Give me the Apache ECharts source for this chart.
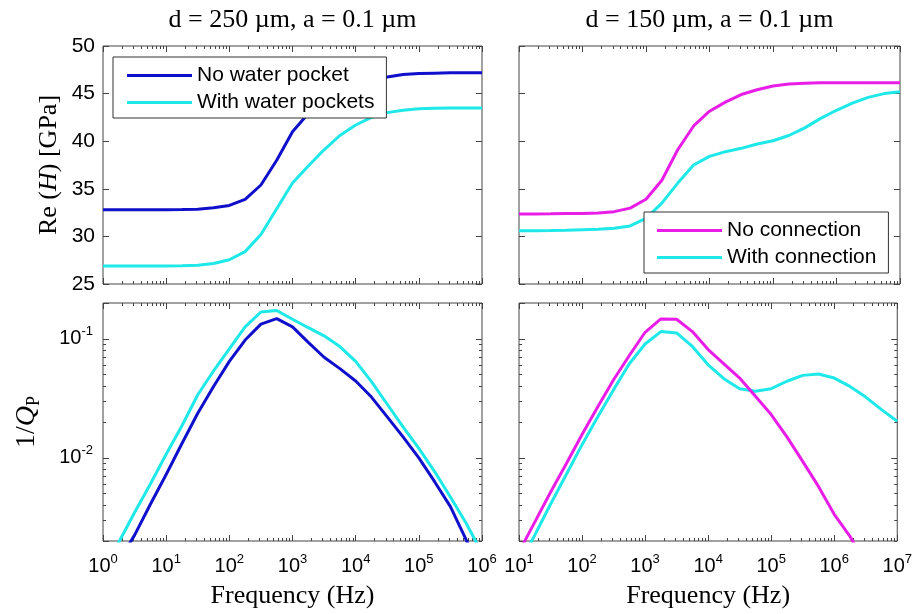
<!DOCTYPE html>
<html><head><meta charset="utf-8">
<script src="https://cdn.jsdelivr.net/npm/echarts@6/dist/echarts.min.js"></script>
<style>html,body{margin:0;padding:0;background:#fff}#c{width:915px;height:614px}</style>
</head><body><div id="c"></div>
<script>
// ---------- data ----------
const panelTitles = ['d = 250 \u00b5m, a = 0.1 \u00b5m', 'd = 150 \u00b5m, a = 0.1 \u00b5m'];
const legendLeft = ['No water pocket', 'With water pockets'];
const legendRight = ['No connection', 'With connection'];

const freqLeft = [1, 1.778, 3.162, 5.623, 10, 17.78, 31.62, 56.23, 100, 177.8, 316.2, 562.3,
  1000, 1778, 3162, 5623, 1e4, 1.778e4, 3.162e4, 5.623e4, 1e5, 1.778e5, 3.162e5, 5.623e5, 1e6];
const freqRight = [10, 17.78, 31.62, 56.23, 100, 177.8, 316.2, 562.3, 1000, 1778, 3162, 5623,
  1e4, 1.778e4, 3.162e4, 5.623e4, 1e5, 1.778e5, 3.162e5, 5.623e5, 1e6, 1.778e6, 3.162e6, 5.623e6, 1e7];

const reNoPocket = [32.8, 32.8, 32.8, 32.8, 32.8, 32.82, 32.85, 33.0, 33.25, 33.9, 35.4, 38.0,
  41.0, 42.9, 44.4, 45.4, 46.0, 46.4, 46.75, 47.0, 47.1, 47.15, 47.2, 47.2, 47.2];
const reWithPockets = [26.9, 26.9, 26.9, 26.9, 26.9, 26.92, 26.97, 27.15, 27.55, 28.4, 30.2, 32.9,
  35.6, 37.4, 39.1, 40.6, 41.7, 42.5, 43.0, 43.25, 43.4, 43.45, 43.5, 43.5, 43.5];
const reNoConn = [32.35, 32.35, 32.37, 32.4, 32.4, 32.45, 32.6, 32.97, 33.9, 35.9, 39.1, 41.6,
  43.15, 44.1, 44.9, 45.4, 45.8, 46.0, 46.1, 46.15, 46.15, 46.15, 46.15, 46.15, 46.15];
const reWithConn = [30.6, 30.6, 30.62, 30.65, 30.7, 30.75, 30.85, 31.1, 31.9, 33.5, 35.6, 37.5,
  38.4, 38.9, 39.25, 39.7, 40.05, 40.6, 41.4, 42.4, 43.25, 44.0, 44.6, 45.0, 45.2];

const invQNoPocket = [0.000794, 0.00135, 0.00224, 0.00407, 0.00724, 0.0132, 0.0237, 0.0398, 0.0646,
  0.0977, 0.133, 0.148, 0.126, 0.0933, 0.070, 0.0562, 0.0442, 0.0324, 0.0221, 0.015, 0.0100,
  0.0063, 0.00389, 0.00204, 0.00112];
const invQWithPockets = [0.00112, 0.00195, 0.00347, 0.00603, 0.0107, 0.0186, 0.0339, 0.0537, 0.0822,
  0.126, 0.168, 0.173, 0.146, 0.124, 0.106, 0.0861, 0.0646, 0.0437, 0.0282, 0.0182, 0.0120,
  0.00767, 0.00468, 0.00282, 0.00158];
const invQNoConn = [0.00162, 0.00288, 0.00513, 0.00891, 0.0157, 0.0269, 0.0453, 0.0724, 0.1135,
  0.147, 0.146, 0.115, 0.0813, 0.0617, 0.0468, 0.0329, 0.0231, 0.0150, 0.00933, 0.00575, 0.00335,
  0.00219, 0.00126, 0.00063, 0.000316];
const invQWithConn = [0.00126, 0.00224, 0.00407, 0.00724, 0.0129, 0.0221, 0.0374, 0.0617, 0.0904,
  0.115, 0.112, 0.0863, 0.0605, 0.0462, 0.0381, 0.0362, 0.0381, 0.0440, 0.0493, 0.0506, 0.0468,
  0.0398, 0.0324, 0.0254, 0.0203];

const xRangeLeft = [1, 1e6];
const xRangeRight = [10, 1e7];
const reRange = [25, 50];
const invQRange = [0.002, 0.2];

// ---------- styling ----------
const BLUE = '#1010cc', CYAN = '#1ee8e8', MAGENTA = '#e81ee8';
const AX = '#444';
const SANS = 'Liberation Sans, Arial, sans-serif';
const SERIF = 'Liberation Serif, Times New Roman, serif';

const grids = [
  {left: 103, top: 46, width: 379, height: 238},
  {left: 519, top: 46, width: 381, height: 238},
  {left: 103, top: 303, width: 379, height: 238},
  {left: 519, top: 303, width: 381, height: 238}
].map(g => Object.assign(g, {show: true, borderColor: AX, borderWidth: 1, backgroundColor: 'transparent'}));

const supRich = {
  b: {fontFamily: SANS, fontSize: 20, color: '#000'},
  s: {fontFamily: SANS, fontSize: 13, color: '#000', padding: [0, 0, 14, 0]}
};
function powLabel(v) {
  const l = Math.log10(v), n = Math.round(l);
  if (Math.abs(l - n) > 1e-6) return '';
  return '{b|10}{s|' + n + '}';
}
function minorList(lo, hi) {
  const out = [];
  for (let n = Math.floor(lo) - 1; n <= Math.ceil(hi); n++)
    for (let k = 2; k <= 9; k++) { const v = n + Math.log10(k); if (v >= lo - 1e-9 && v <= hi + 1e-9) out.push(v); }
  return out;
}
function majorList(lo, hi) {
  const out = [];
  for (let n = Math.ceil(lo - 1e-9); n <= hi + 1e-9; n++) out.push(n);
  return out;
}
function decoAxis(gridIndex, position, lo, hi, values, len) {
  return {type: 'value', gridIndex, position, min: lo, max: hi,
    axisLine: {show: false, onZero: false},
    axisTick: {show: true, inside: true, length: len, customValues: values, lineStyle: {color: AX, width: 1}},
    axisLabel: {show: false}, splitLine: {show: false}};
}

const xAxis = [], yAxis = [];
const mainX = [], mainY = [];
[xRangeLeft, xRangeRight, xRangeLeft, xRangeRight].forEach((r, g) => {
  const lo = Math.log10(r[0]), hi = Math.log10(r[1]);
  mainX[g] = xAxis.length;
  xAxis.push({type: 'log', logBase: 10, gridIndex: g, position: 'bottom', min: r[0], max: r[1],
    axisLine: {show: false, onZero: false},
    axisTick: {show: true, inside: true, length: 6, lineStyle: {color: AX}},
    axisLabel: {show: g >= 2, formatter: powLabel, rich: supRich, margin: 12, color: '#000'},
    splitLine: {show: false},
    name: g >= 2 ? 'Frequency (Hz)' : '', nameLocation: 'middle', nameGap: 42,
    nameTextStyle: {fontFamily: SERIF, fontSize: 26, color: '#000'}});
  xAxis.push(decoAxis(g, 'bottom', lo, hi, minorList(lo, hi), 3));
  xAxis.push(decoAxis(g, 'top', lo, hi, majorList(lo, hi), 6));
  xAxis.push(decoAxis(g, 'top', lo, hi, minorList(lo, hi), 3));
});
// top panels: linear Re(H)
[0, 1].forEach(g => {
  mainY[g] = yAxis.length;
  yAxis.push({type: 'value', gridIndex: g, position: 'left', min: reRange[0], max: reRange[1], interval: 5,
    axisLine: {show: false, onZero: false},
    axisTick: {show: true, inside: true, length: 6, lineStyle: {color: AX}},
    axisLabel: {show: g === 0, fontFamily: SANS, fontSize: 21, color: '#000', margin: 8},
    splitLine: {show: false},
    name: g === 0 ? '{n|Re (}{i|H}{n|) [GPa]}' : '', nameLocation: 'middle', nameRotate: 90, nameGap: 41,
    nameTextStyle: {fontFamily: SERIF, fontSize: 26, color: '#000', rich: {
      n: {fontFamily: SERIF, fontSize: 26, color: '#000'},
      i: {fontFamily: SERIF, fontSize: 26, color: '#000', fontStyle: 'italic'}}}});
  yAxis.push({type: 'value', gridIndex: g, position: 'right', min: reRange[0], max: reRange[1], interval: 5,
    axisLine: {show: false, onZero: false},
    axisTick: {show: true, inside: true, length: 6, lineStyle: {color: AX}},
    axisLabel: {show: false}, splitLine: {show: false}});
});
// bottom panels: log 1/Q
[2, 3].forEach(g => {
  const lo = Math.log10(invQRange[0]), hi = Math.log10(invQRange[1]);
  mainY[g] = yAxis.length;
  yAxis.push({type: 'log', logBase: 10, gridIndex: g, position: 'left', min: invQRange[0], max: invQRange[1],
    axisLine: {show: false, onZero: false},
    axisTick: {show: true, inside: true, length: 6, lineStyle: {color: AX}},
    axisLabel: {show: g === 2, formatter: powLabel, rich: supRich, margin: 10, color: '#000'},
    splitLine: {show: false},
    name: g === 2 ? '{n|1/}{i|Q}{s|P}' : '', nameLocation: 'middle', nameRotate: 90, nameGap: 60,
    nameTextStyle: {fontFamily: SERIF, fontSize: 28, color: '#000', rich: {
      n: {fontFamily: SERIF, fontSize: 28, color: '#000'},
      i: {fontFamily: SERIF, fontSize: 28, color: '#000', fontStyle: 'italic'},
      s: {fontFamily: SERIF, fontSize: 18, color: '#000', padding: [14, 0, 0, 0]}}}});
  yAxis.push(decoAxis(g, 'left', lo, hi, minorList(lo, hi), 3));
  yAxis.push(decoAxis(g, 'right', lo, hi, majorList(lo, hi), 6));
  yAxis.push(decoAxis(g, 'right', lo, hi, minorList(lo, hi), 3));
});

function zip(xs, ys) { return xs.map((x, i) => [x, ys[i]]); }
function line(name, color, g, xs, ys) {
  return {type: 'line', name, xAxisIndex: mainX[g], yAxisIndex: mainY[g], data: zip(xs, ys),
    showSymbol: false, symbol: 'none', smooth: false, clip: true,
    lineStyle: {color, width: 3}, itemStyle: {color}, emphasis: {disabled: true}};
}
const series = [
  line(legendLeft[0], BLUE, 0, freqLeft, reNoPocket),
  line(legendLeft[1], CYAN, 0, freqLeft, reWithPockets),
  line(legendRight[0], MAGENTA, 1, freqRight, reNoConn),
  line(legendRight[1], CYAN, 1, freqRight, reWithConn),
  line(legendLeft[1], CYAN, 2, freqLeft, invQWithPockets),
  line(legendLeft[0], BLUE, 2, freqLeft, invQNoPocket),
  line(legendRight[1], CYAN, 3, freqRight, invQWithConn),
  line(legendRight[0], MAGENTA, 3, freqRight, invQNoConn)
];

const legendCommon = {orient: 'vertical', icon: 'rect', itemWidth: 65, itemHeight: 3, itemGap: 6,
  borderColor: '#333', borderWidth: 1, backgroundColor: '#fff', borderRadius: 0,
  selectedMode: false,
  textStyle: {fontFamily: SANS, fontSize: 21, color: '#000'}};

const option = {
  animation: false,
  backgroundColor: '#fff',
  grid: grids,
  xAxis, yAxis, series,
  legend: [
    Object.assign({left: 113, top: 57, padding: [8, 12, 5, 14], data: legendLeft}, legendCommon),
    Object.assign({left: 644, top: 212, padding: [8, 12, 5, 13], data: legendRight}, legendCommon)
  ],
  graphic: panelTitles.map((t, i) => ({type: 'text', x: i === 0 ? 292.5 : 709.5, y: 20,
    style: {text: t, align: 'center', verticalAlign: 'middle', fill: '#000',
      font: '26px "Liberation Serif", "Times New Roman", serif'}}))
};
const chart = echarts.init(document.getElementById('c'), null, {renderer: 'canvas'});
chart.setOption(option);
</script></body></html>
